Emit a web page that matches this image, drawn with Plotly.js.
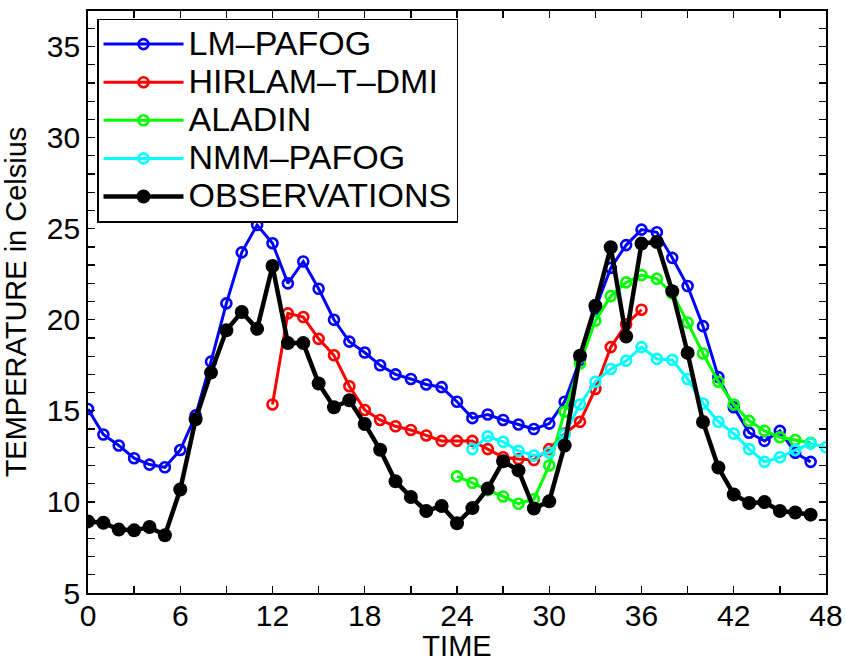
<!DOCTYPE html>
<html>
<head>
<meta charset="utf-8">
<script src="https://cdn.plot.ly/plotly-3.0.1.min.js"></script>
<style>html,body{margin:0;padding:0;background:#fff;}#chart{width:846px;height:662px;}</style>
</head>
<body>
<div id="chart"></div>
<script>
// ---- data ----
const lmX = [0,1,2,3,4,5,6,7,8,9,10,11,12,13,14,15,16,17,18,19,20,21,22,23,24,25,26,27,28,29,30,31,32,33,34,35,36,37,38,39,40,41,42,43,44,45,46,47];
const lmY = [15.1,13.7,13.1,12.4,12.05,11.9,12.85,14.75,17.7,20.9,23.7,25.2,24.2,22.0,23.2,21.7,20.0,18.8,18.2,17.5,17.0,16.75,16.45,16.3,15.5,14.6,14.8,14.5,14.25,14.0,14.3,15.5,17.8,20.6,22.85,24.1,24.95,24.8,23.4,21.85,19.65,16.85,15.2,13.8,13.35,13.9,12.7,12.2];

const hirX = [12,13,14,15,16,17,18,19,20,21,22,23,24,25,26,27,28,29,30,31,32,33,34,35,36];
const hirY = [15.35,20.35,20.15,18.95,18.05,16.35,15.05,14.5,14.15,13.95,13.65,13.35,13.35,13.35,12.9,12.45,12.35,12.3,12.9,13.75,14.4,16.2,18.5,19.75,20.55];

const alaX = [24,25,26,27,28,29,30,31,32,33,34,35,36,37,38,39,40,41,42,43,44,45,46,47];
const alaY = [11.4,11.05,10.65,10.3,9.9,10.15,12.0,14.95,17.6,19.95,21.3,22.05,22.45,22.25,21.45,19.85,18.15,16.6,15.35,14.45,13.9,13.55,13.4,13.25];

const nmmX = [25,26,27,28,29,30,31,32,33,34,35,36,37,38,39,40,41,42,43,44,45,46,47,48];
const nmmY = [12.9,13.6,13.3,12.8,12.55,12.7,13.7,15.35,16.6,17.3,17.75,18.5,17.85,17.8,16.75,15.4,14.4,13.75,12.9,12.2,12.45,12.85,13.2,13.0];

const obsX = [0,1,2,3,4,5,6,7,8,9,10,11,12,13,14,15,16,17,18,19,20,21,22,23,24,25,26,27,28,29,30,31,32,33,34,35,36,37,38,39,40,41,42,43,44,45,46,47];
const obsY = [8.93,8.86,8.48,8.44,8.62,8.17,10.68,14.54,17.1,19.42,20.43,19.5,22.95,18.72,18.72,16.5,15.2,15.58,14.28,12.86,11.13,10.27,9.5,9.78,8.83,9.66,10.73,12.23,11.73,9.64,10.03,13.1,18.03,20.77,23.98,19.08,24.18,24.27,21.57,18.18,14.39,11.89,10.41,9.94,9.99,9.5,9.42,9.3];

const seriesNames = ['LM\u2013PAFOG','HIRLAM\u2013T\u2013DMI','ALADIN','NMM\u2013PAFOG','OBSERVATIONS'];
const xTickVals = [0,6,12,18,24,30,36,42,48];
const yTickVals = [5,10,15,20,25,30,35];

// legend label styling (bigger glyphs with tight row spacing)
function legendLabel(s) { return '<span style="font-size:34px">' + s + '</span>'; }

function model(x, y, name, color) {
  return {
    x: x, y: y, name: legendLabel(name), type: 'scatter', mode: 'lines+markers',
    line: {color: color, width: 3},
    marker: {symbol: 'circle-open', size: 10, color: color, line: {color: color, width: 2.6}},
    hoverinfo: 'skip'
  };
}

const traces = [
  model(lmX, lmY, seriesNames[0], '#0000ff'),
  model(hirX, hirY, seriesNames[1], '#ff0000'),
  model(alaX, alaY, seriesNames[2], '#00ff00'),
  model(nmmX, nmmY, seriesNames[3], '#00ffff'),
  {
    x: obsX, y: obsY, name: legendLabel(seriesNames[4]), type: 'scatter', mode: 'lines+markers',
    line: {color: '#000000', width: 4.5},
    marker: {symbol: 'circle', size: 14, color: '#000000'},
    hoverinfo: 'skip'
  }
];

const fontFam = 'Liberation Sans, Arial, Helvetica, sans-serif';

const layout = {
  width: 846, height: 662,
  margin: {l: 88, r: 20, t: 11, b: 69, pad: 0},
  paper_bgcolor: '#ffffff', plot_bgcolor: '#ffffff',
  font: {family: fontFam, size: 30, color: '#000000'},
  showlegend: true,
  legend: {
    x: 0.0122, y: 0.987, xanchor: 'left', yanchor: 'top',
    bgcolor: '#ffffff', bordercolor: '#000000', borderwidth: 1.5,
    font: {family: fontFam, size: 27, color: '#000000'},
    itemwidth: 80, tracegroupgap: 0
  },
  xaxis: {
    range: [0, 48], tickvals: xTickVals, ticktext: xTickVals.map(String),
    ticks: 'inside', ticklen: 7, tickwidth: 1.3, tickcolor: '#000',
    minor: {dtick: 3, tick0: 0, ticks: 'inside', ticklen: 7, tickwidth: 1.3, tickcolor: '#000', showgrid: false},
    showline: true, linecolor: '#000', linewidth: 1.8, mirror: 'ticks',
    showgrid: false, zeroline: false,
    tickfont: {family: fontFam, size: 30, color: '#000'},
    ticklabelstandoff: -5,
    title: {text: 'TIME', font: {family: fontFam, size: 29, color: '#000'}, standoff: 10},
    fixedrange: true
  },
  yaxis: {
    range: [5, 36.95], tickvals: yTickVals, ticktext: yTickVals.map(String),
    ticks: 'inside', ticklen: 7, tickwidth: 1.3, tickcolor: '#000',
    minor: {dtick: 1, tick0: 5, ticks: 'inside', ticklen: 7, tickwidth: 1.3, tickcolor: '#000', showgrid: false},
    showline: true, linecolor: '#000', linewidth: 1.8, mirror: 'ticks',
    showgrid: false, zeroline: false,
    tickfont: {family: fontFam, size: 30, color: '#000'},
    ticklabelstandoff: 0,
    title: {text: 'TEMPERATURE in Celsius', font: {family: fontFam, size: 29, color: '#000'}, standoff: 14},
    fixedrange: true
  }
};

Plotly.newPlot('chart', traces, layout, {staticPlot: true, displayModeBar: false});
</script>
</body>
</html>
